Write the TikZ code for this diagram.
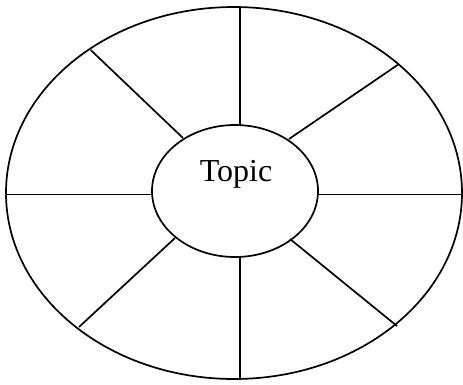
\documentclass[tikz,border=0pt]{standalone}
\usepackage{fontspec}
\setmainfont{Liberation Serif}
\usetikzlibrary{shapes.geometric}
\begin{document}
\begin{tikzpicture}[x=1pt,y=-1pt,
  rim/.style={draw=black,line width=1.7pt},
  spoke/.style={draw=black,line width=1.7pt}]
\useasboundingbox (0,0) rectangle (463,384);
\path[fill=white] (0,0) rectangle (463,384);
% outer and inner ellipses
\draw[rim] (234,193) ellipse [x radius=228, y radius=186];
\draw[rim] (235,191) ellipse [x radius=83, y radius=66];
\node (topic) at (236,174) {\fontsize{32}{36}\selectfont Topic};
% spoke end points
\coordinate (i1) at (240,125);  \coordinate (o1) at (240,7);
\coordinate (i2) at (289,139);  \coordinate (o2) at (399,64);
\coordinate (i3) at (318,194.5); \coordinate (o3) at (462,194.5);
\coordinate (i4) at (290,239);  \coordinate (o4) at (397,326);
\coordinate (i5) at (240,257);  \coordinate (o5) at (240,379);
\coordinate (i6) at (175,238);  \coordinate (o6) at (79,327);
\coordinate (i7) at (152,194.5); \coordinate (o7) at (6,194.5);
\coordinate (i8) at (183,138);  \coordinate (o8) at (90.7,50);
\foreach \k in {1,...,8} \draw[spoke] (i\k) -- (o\k);
\end{tikzpicture}
\end{document}
